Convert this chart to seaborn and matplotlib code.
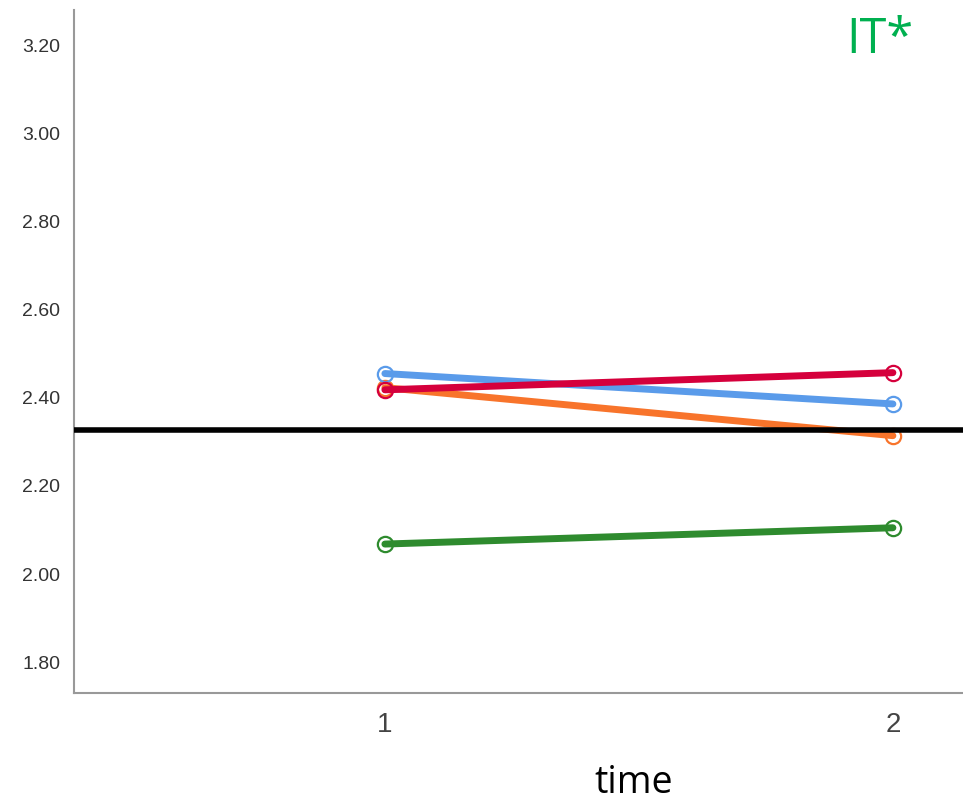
import matplotlib
matplotlib.use("Agg")
import matplotlib.pyplot as plt
import seaborn as sns
import pandas as pd

# Mean scores per group at each measurement time
times = [1, 2]
groups = ["Green", "Orange", "Blue", "Red"]
green_vals = [2.068, 2.105]
orange_vals = [2.423, 2.314]
blue_vals = [2.455, 2.386]
red_vals = [2.418, 2.457]
reference_level = 2.327

y_ticks = [1.80, 2.00, 2.20, 2.40, 2.60, 2.80, 3.00, 3.20]
x_ticks = [1, 2]
panel_label = "IT*"
x_label = "time"

palette = {"Green": "#2e8b2e", "Orange": "#f8742b", "Blue": "#5a9bea", "Red": "#d5003c"}

rows = []
for g, vals in zip(groups, [green_vals, orange_vals, blue_vals, red_vals]):
    for t, v in zip(times, vals):
        rows.append({"time": t, "value": v, "group": g})
df = pd.DataFrame(rows)

sns.set_theme(style="white")
plt.rcParams["font.family"] = ["Liberation Sans", "DejaVu Sans"]

fig = plt.figure(figsize=(9.63, 8.05), dpi=100)
ax = fig.add_axes([74 / 963, 1 - 693 / 805, 1 - 74 / 963, (693 - 10) / 805])

sns.lineplot(
    data=df, x="time", y="value", hue="group", hue_order=groups,
    palette=palette, linewidth=5, marker="o", markersize=11,
    markerfacecolor="none", markeredgewidth=1.6, legend=False, ax=ax,
)
for line in ax.lines:
    line.set_markeredgecolor(line.get_color())

ax.axhline(reference_level, color="black", linewidth=4, zorder=5)

ax.set_xlim(0.388, 2.138)
ax.set_ylim(1.73, 3.28)
ax.set_xticks(x_ticks)
ax.set_xticklabels([str(t) for t in x_ticks], fontsize=20, color="#444444")
ax.set_yticks(y_ticks)
ax.set_yticklabels([f"{v:.2f}" for v in y_ticks], fontsize=14, color="#333333")
ax.tick_params(axis="both", length=0, pad=10)
ax.tick_params(axis="x", pad=14)

for side in ["top", "right"]:
    ax.spines[side].set_visible(False)
for side in ["left", "bottom"]:
    ax.spines[side].set_color("#999999")
    ax.spines[side].set_linewidth(1.5)

ax.set_ylabel("")
ax.set_xlabel("")
fig.text(634 / 963, 1 - 783 / 805, x_label, ha="center", va="center",
         fontsize=27, color="black", family=["Open Sans", "DejaVu Sans"])
fig.text(880 / 963, 1 - 40 / 805, panel_label, ha="center", va="center",
         fontsize=35, color="#00b050", family=["Open Sans", "DejaVu Sans"])

fig.savefig("out.png", dpi=100)
